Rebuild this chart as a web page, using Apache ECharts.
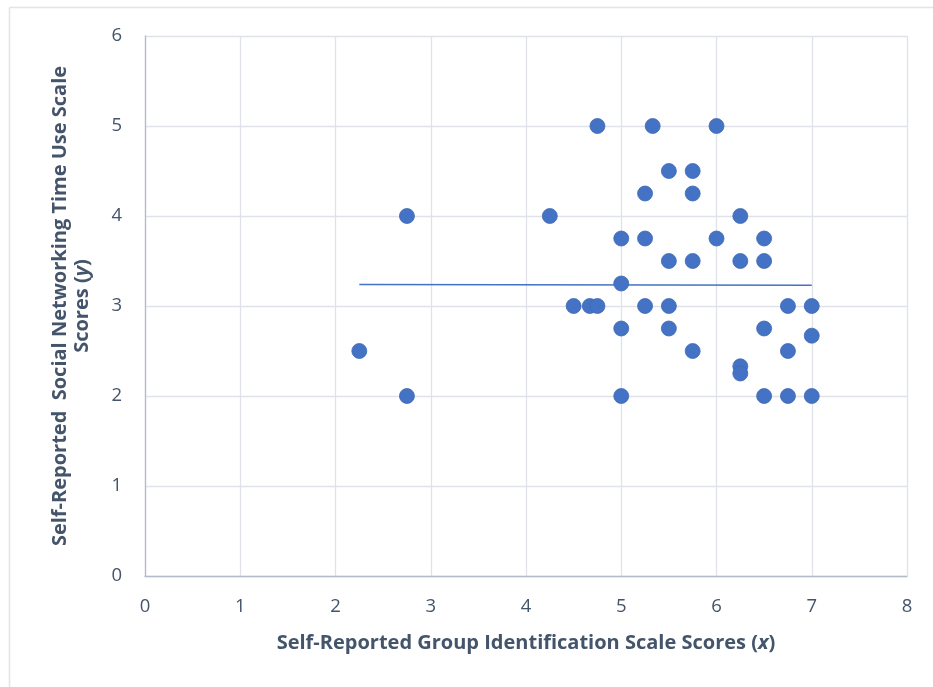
<!DOCTYPE html>
<html><head><meta charset="utf-8">
<script src="https://cdn.jsdelivr.net/npm/echarts@6/dist/echarts.min.js"></script>
<style>html,body{margin:0;padding:0;background:#fff}#c{width:933px;height:687px}</style>
</head><body><div id="c"></div>
<script>
const xValues = [2.25, 2.75, 2.75, 4.25, 4.5, 4.67, 4.75, 4.75, 5.33, 6, 5.5, 5.75, 5.25, 5.75, 6.25,
  5, 5.25, 6, 6.5, 5.5, 5.75, 6.25, 6.5, 5, 5.25, 5.5, 6.75, 7, 5, 5.5, 6.5, 7, 5.75, 6.75, 6.25, 6.25,
  5, 6.5, 6.75, 7];
const yValues = [2.5, 4, 2, 4, 3, 3, 3, 5, 5, 5, 4.5, 4.5, 4.25, 4.25, 4,
  3.75, 3.75, 3.75, 3.75, 3.5, 3.5, 3.5, 3.5, 3.25, 3, 3, 3, 3, 2.75, 2.75, 2.75, 2.67, 2.5, 2.5, 2.33, 2.25,
  2, 2, 2, 2];
const trendX = [2.25, 7];
const trendY = [3.24, 3.23];
const xTicks = [0, 1, 2, 3, 4, 5, 6, 7, 8];
const yTicks = [0, 1, 2, 3, 4, 5, 6];

const FONT = 'Open Sans';
const TXT = '#44546a';
const TS = 20;
const chart = echarts.init(document.getElementById('c'), null, {renderer: 'canvas'});
chart.setOption({
  animation: false,
  backgroundColor: '#fff',
  graphic: [
    {type: 'line', shape: {x1: 9.5, y1: 7.5, x2: 933, y2: 7.5}, style: {stroke: '#e1e4e9', lineWidth: 1.5}, silent: true},
    {type: 'line', shape: {x1: 9.5, y1: 7.5, x2: 9.5, y2: 687}, style: {stroke: '#e1e4e9', lineWidth: 1.5}, silent: true}
  ],
  grid: {left: 145, right: 26, top: 36, bottom: 111, containLabel: false},
  xAxis: {
    type: 'value', min: xTicks[0], max: xTicks[xTicks.length - 1], interval: 1,
    axisLine: {show: true, onZero: false, lineStyle: {color: '#b4bcc9', width: 1.3}},
    axisTick: {show: false},
    splitLine: {show: true, lineStyle: {color: '#dfe2e8', width: 1.3}},
    axisLabel: {color: TXT, fontFamily: FONT, fontSize: 18.5, margin: 21},
    name: '{b|Self-Reported Group Identification Scale Scores (}{i|x}{b|)}',
    nameLocation: 'middle', nameGap: 57,
    nameTextStyle: {rich: {
      b: {fontFamily: FONT, fontWeight: 'bold', fontSize: TS, color: TXT},
      i: {fontFamily: FONT, fontWeight: 'bold', fontStyle: 'italic', fontSize: TS, color: TXT}
    }}
  },
  yAxis: {
    type: 'value', min: yTicks[0], max: yTicks[yTicks.length - 1], interval: 1,
    axisLine: {show: true, onZero: false, lineStyle: {color: '#b4bcc9', width: 1.3}},
    axisTick: {show: false},
    splitLine: {show: true, lineStyle: {color: '#dfe2e8', width: 1.3}},
    axisLabel: {color: TXT, fontFamily: FONT, fontSize: 18.5, margin: 23},
    name: '{b|Self-Reported  Social Networking Time Use Scale}\n{b|Scores (}{i|y}{b|)}',
    nameLocation: 'middle', nameGap: 52, nameRotate: 90,
    nameTextStyle: {lineHeight: 22, rich: {
      b: {fontFamily: FONT, fontWeight: 'bold', fontSize: TS, color: TXT, lineHeight: 22},
      i: {fontFamily: FONT, fontWeight: 'bold', fontStyle: 'italic', fontSize: TS, color: TXT, lineHeight: 22}
    }}
  },
  series: [
    {
      type: 'line', data: trendX.map((x, i) => [x, trendY[i]]),
      symbol: 'none', lineStyle: {color: '#4472c4', width: 1.5}, silent: true, z: 1
    },
    {
      type: 'scatter', data: xValues.map((x, i) => [x, yValues[i]]),
      symbol: 'circle', symbolSize: 15,
      itemStyle: {color: '#4472c4', borderColor: '#3f68b5', borderWidth: 0.8, opacity: 1}, z: 2
    }
  ]
});
</script></body></html>
